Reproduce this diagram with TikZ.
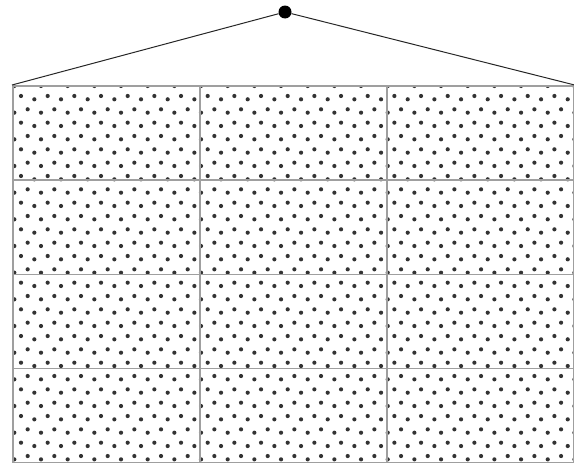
\documentclass[tikz,border=0pt]{standalone}
\usepackage{tikz}
\usetikzlibrary{patterns}
\pgfdeclarepatternformonly{roofdots}{\pgfqpoint{-3pt}{-3pt}}{\pgfqpoint{29.67pt}{29.67pt}}{\pgfqpoint{26.67pt}{26.67pt}}{
  \pgfpathcircle{\pgfqpoint{1pt}{6.97pt}}{2.1pt}
  \pgfpathcircle{\pgfqpoint{14.33pt}{3.63pt}}{2.1pt}
  \pgfpathcircle{\pgfqpoint{21pt}{20.3pt}}{2.1pt}
  \pgfpathcircle{\pgfqpoint{7.67pt}{16.97pt}}{2.1pt}
  \pgfusepath{fill}
}

\begin{document}
\begin{tikzpicture}[x=1pt,y=-1pt,
    panel/.style={rectangle, draw=gray!75, line width=1.6pt, pattern=roofdots, pattern color=black!80, minimum width=187pt, minimum height=94.25pt, inner sep=0pt, anchor=north west},
    cable/.style={line width=1pt, black!85}
]
\useasboundingbox (0,0) rectangle (574,463);

\node[circle, fill=black, inner sep=0pt, minimum size=13pt] (hook) at (285,12) {};

% 4 rows x 3 columns of panels
\foreach \r in {1,...,4}{
  \foreach \c in {1,2,3}{
    \node[panel] (cell-\r-\c) at ({12+187*(\c-1)},{85+94.25*(\r-1)}) {};
  }
}

\draw[cable] (hook) -- (cell-1-1.north west);
\draw[cable] (hook) -- (cell-1-3.north east);

\end{tikzpicture}
\end{document}
